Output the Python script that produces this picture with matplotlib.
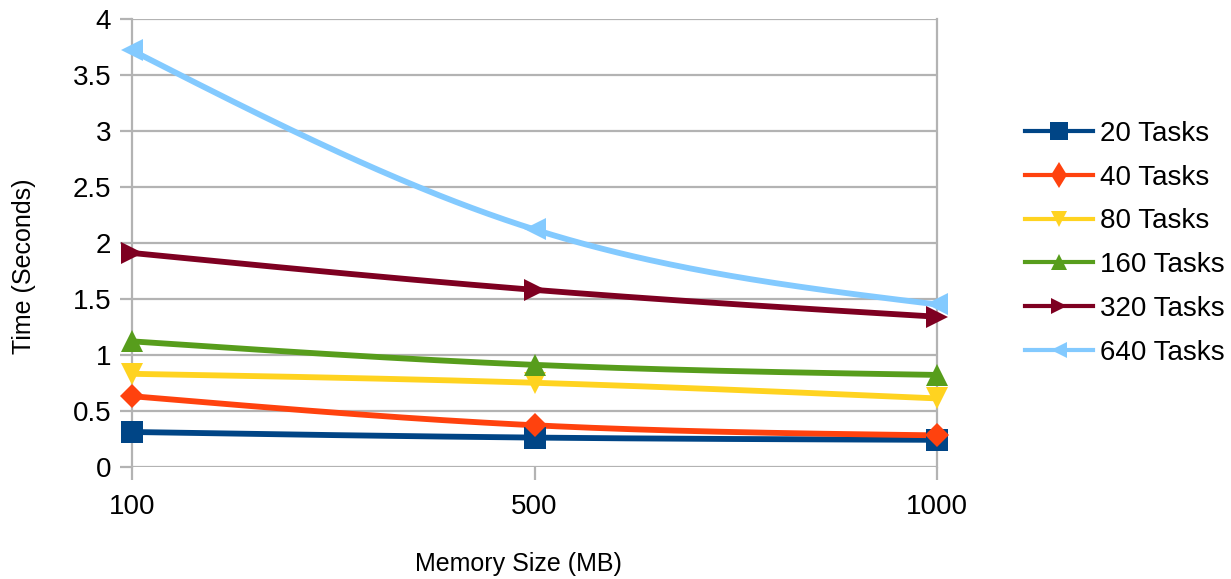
import numpy as np
import matplotlib
matplotlib.use("Agg")
import matplotlib.pyplot as plt
from matplotlib.lines import Line2D

plt.rcParams['font.family'] = ['Liberation Sans', 'DejaVu Sans']

categories = ["100", "500", "1000"]
series_names = ["20 Tasks", "40 Tasks", "80 Tasks", "160 Tasks", "320 Tasks", "640 Tasks"]
tasks20 = [0.31, 0.26, 0.24]
tasks40 = [0.63, 0.37, 0.28]
tasks80 = [0.83, 0.75, 0.61]
tasks160 = [1.12, 0.91, 0.82]
tasks320 = [1.91, 1.58, 1.34]
tasks640 = [3.72, 2.12, 1.45]
series_values = [tasks20, tasks40, tasks80, tasks160, tasks320, tasks640]
colors = ["#004586", "#ff420e", "#ffd320", "#579d1c", "#7e0021", "#83caff"]
markers = ["s", "D", "v", "^", ">", "<"]
msizes = [15.5, 12, 16, 16, 16, 16]
leg_markers = ["s", "d", "v", "^", ">", "<"]
leg_msizes = [13, 13, 12, 12, 12, 12]
yticks = [0, 0.5, 1, 1.5, 2, 2.5, 3, 3.5, 4]


def natural_spline(x, y, n=200):
    x = np.asarray(x, float)
    y = np.asarray(y, float)
    k = len(x)
    h = np.diff(x)
    A = np.zeros((k, k))
    b = np.zeros(k)
    A[0, 0] = 1
    A[-1, -1] = 1
    for i in range(1, k - 1):
        A[i, i - 1] = h[i - 1]
        A[i, i] = 2 * (h[i - 1] + h[i])
        A[i, i + 1] = h[i]
        b[i] = 6 * ((y[i + 1] - y[i]) / h[i] - (y[i] - y[i - 1]) / h[i - 1])
    M = np.linalg.solve(A, b)
    xs = np.linspace(x[0], x[-1], n)
    ys = np.empty_like(xs)
    for j, xv in enumerate(xs):
        i = min(np.searchsorted(x, xv, side='right') - 1, k - 2)
        t1 = x[i + 1] - xv
        t0 = xv - x[i]
        ys[j] = (M[i] * t1 ** 3 / (6 * h[i]) + M[i + 1] * t0 ** 3 / (6 * h[i])
                 + (y[i] / h[i] - M[i] * h[i] / 6) * t1
                 + (y[i + 1] / h[i] - M[i + 1] * h[i] / 6) * t0)
    return xs, ys


fig = plt.figure(figsize=(12.31, 5.79), dpi=100)
ax = fig.add_axes([0.1072, 0.194, 0.654, 0.773])

xpos = np.arange(len(categories))
handles = []
for name, vals, c, m, ms, lm, lms in zip(series_names, series_values, colors,
                                         markers, msizes, leg_markers, leg_msizes):
    xs, ys = natural_spline(xpos, vals)
    ax.plot(xs, ys, color=c, lw=4.2, solid_capstyle='round', clip_on=False, zorder=3)
    ax.plot(xpos, vals, linestyle='none', marker=m, markersize=ms, color=c,
            markeredgewidth=0, clip_on=False, zorder=4)
    handles.append(Line2D([0], [0], color=c, lw=3.0, marker=lm,
                          markersize=lms, markeredgewidth=0, label=name))

ax.set_xlim(0, 2)
ax.set_ylim(0, 4)
ax.set_xticks(xpos)
ax.set_xticklabels(categories)
ax.set_yticks(yticks)
ax.set_yticklabels([f"{v:g}" for v in yticks])
ax.yaxis.grid(True, color="#b3b3b3", lw=1.6, zorder=0)
ax.set_axisbelow(True)
for s in ["top", "bottom"]:
    ax.spines[s].set_visible(False)
for s in ["left", "right"]:
    ax.spines[s].set_color("#b3b3b3")
    ax.spines[s].set_linewidth(1.6)
ax.tick_params(axis='both', length=9, width=1.6, color="#b3b3b3",
               labelsize=20, labelcolor="#000000")
ax.tick_params(axis='y', pad=6)
ax.tick_params(axis='x', pad=11)

ax.set_ylabel("Time (Seconds)", fontsize=18)
ax.set_xlabel("Memory Size (MB)", fontsize=18)
ax.yaxis.set_label_coords(-0.119, 0.448)
ax.xaxis.set_label_coords(0.4795, -0.190)

fig.legend(handles=handles, loc='center left', bbox_to_anchor=(0.8327, 0.580),
           frameon=False, fontsize=20, handlelength=2.45, handletextpad=0.25,
           labelspacing=0.64, borderaxespad=0, borderpad=0)

fig.savefig("out.png", dpi=100)
